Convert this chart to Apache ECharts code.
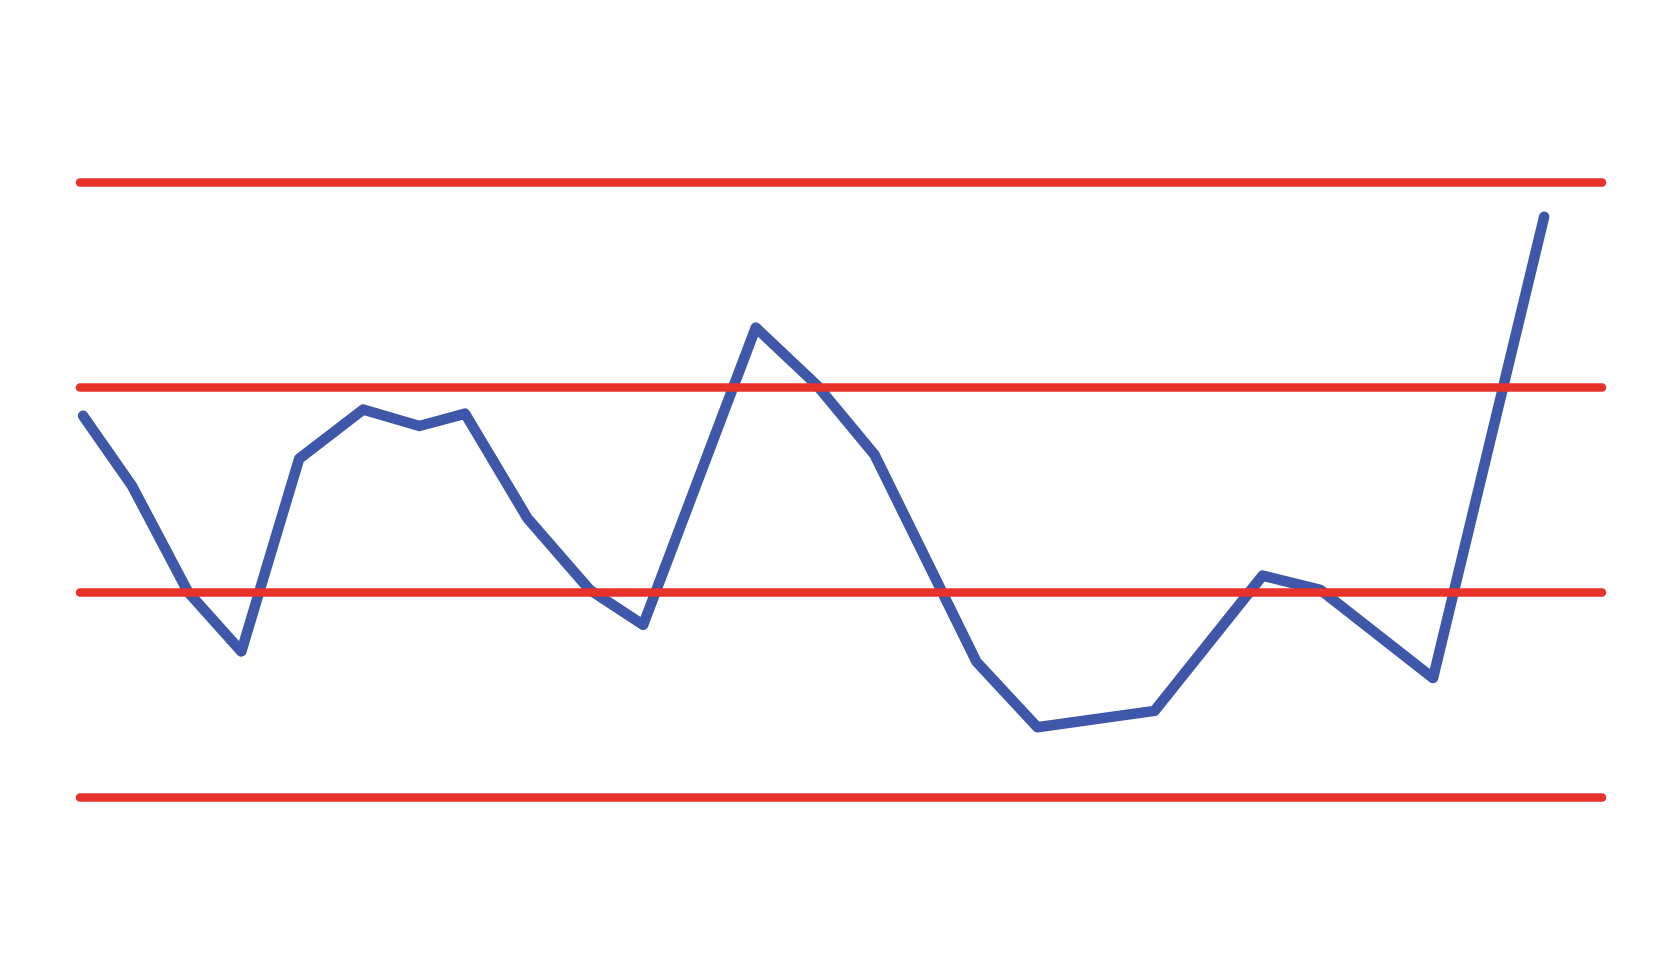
<!DOCTYPE html>
<html>
<head>
<meta charset="utf-8">
<title>Line chart with limit lines</title>
<script src="https://cdn.jsdelivr.net/npm/echarts@6/dist/echarts.min.js"></script>
<style>
  html, body { margin: 0; padding: 0; background: #ffffff; }
  #chart { width: 1680px; height: 980px; }
</style>
</head>
<body>
<div id="chart"></div>
<script>
// data
const xValues = [0.2, 3.4, 7.1, 10.6, 14.4, 18.6, 22.3, 25.3, 29.4, 33.5, 37.0,
  44.4, 48.4, 52.2, 58.9, 62.9, 70.6, 77.7, 81.5, 88.9, 96.2];
const yValues = [18.6, 15.2, 10.0, 7.1, 16.5, 18.9, 18.1, 18.7, 13.6, 10.1, 8.4,
  22.9, 20.1, 16.7, 6.6, 3.4, 4.2, 10.8, 10.1, 5.8, 28.3];
const limitLevels = [0, 10, 20, 30];

const chartDom = document.getElementById("chart");
const myChart = echarts.init(chartDom);

const points = xValues.map((x, i) => [x, yValues[i]]);

let option = {
  animation: false,
  backgroundColor: "#ffffff",
  grid: {
    left: 80,
    right: 78,
    top: 182,
    bottom: 183,
  },
  xAxis: {
    type: "value",
    min: 0,
    max: 100,
    show: false,
  },
  yAxis: {
    type: "value",
    min: 0,
    max: 30,
    interval: 10,
    show: false,
  },
  series: [
    {
      type: "line",
      data: [],
      silent: true,
      markLine: {
        silent: true,
        symbol: ["none", "none"],
        label: { show: false },
        lineStyle: {
          color: "#e8312a",
          width: 8.5,
          type: "solid",
          cap: "round",
        },
        data: limitLevels.map((v) => ({ yAxis: v })),
      },
      z: 1,
    },
    {
      type: "line",
      data: points,
      showSymbol: false,
      lineStyle: {
        color: "#3f57a8",
        width: 10.5,
        cap: "round",
        join: "round",
      },
      z: 2,
    },
  ],
};

myChart.setOption(option);
window.onresize = function () {
  myChart.resize();
};
</script>
</body>
</html>
